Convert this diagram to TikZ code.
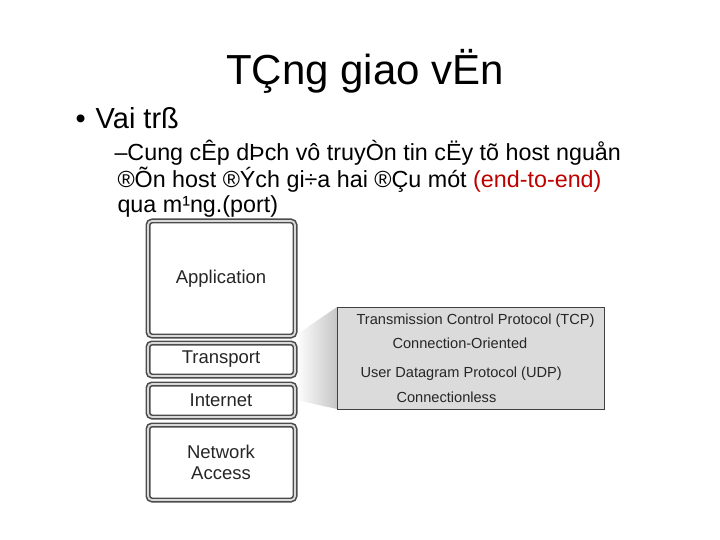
\documentclass[tikz,border=0pt]{standalone}
\usepackage{fontspec}
\setmainfont{Liberation Sans}
\begin{document}
\begin{tikzpicture}[x=1pt,y=-1pt,
  layer/.style={draw=gray!60!black,line width=1.6pt,rounded corners=4pt,fill=white,
     double=gray!30,double distance=1.8pt},
  ltext/.style={font=\fontsize{18.5}{21}\selectfont,align=center,text=black!85},
  ptext/.style={font=\fontsize{14.6}{16}\selectfont,anchor=west,text=black!85}]
\useasboundingbox (0,0) rectangle (720,540);
\node[font=\fontsize{42}{46}\selectfont] (title) at (365,71) {TÇng giao vËn};
\node[font=\fontsize{29}{32}\selectfont,anchor=west] (b1) at (72,118) {•\hspace{10pt}Vai trß};
\node[font=\fontsize{23.3}{25}\selectfont,anchor=north west,align=left] (b2) at (111,137)
 {–Cung cÊp dÞch vô truyÒn tin cËy tõ host nguån\\
  \hspace{3pt}®Õn host ®Ých gi÷a hai ®Çu mót \textcolor{red!75!black}{(end-to-end)}\\
  \hspace{3pt}qua m¹ng.(port)};
% funnel
\shade[left color=white,right color=gray!45] (296,335) -- (337,307) -- (337,409) -- (296,400) -- cycle;
\draw[layer] (148,221) rectangle (295,336);
\draw[layer] (148,343) rectangle (295,376);
\draw[layer] (148,384) rectangle (295,417);
\draw[layer] (148,425) rectangle (295,500);
\node[ltext] (app) at (221,279) {Application};
\node[ltext] (tr) at (221,359) {Transport};
\node[ltext] (int) at (221,400) {Internet};
\node[ltext] (na) at (221,462) {Network\\Access};
\draw[fill=gray!28,draw=black!75,line width=0.8pt] (337,307) rectangle (604,409);
\node[ptext] (tcp) at (353,321) {Transmission Control Protocol (TCP)};
\node[ptext] (co) at (389,343) {Connection-Oriented};
\node[ptext] (udp) at (357,374) {User Datagram Protocol (UDP)};
\node[ptext] (cl) at (393,397) {Connectionless};
\end{tikzpicture}
\end{document}
